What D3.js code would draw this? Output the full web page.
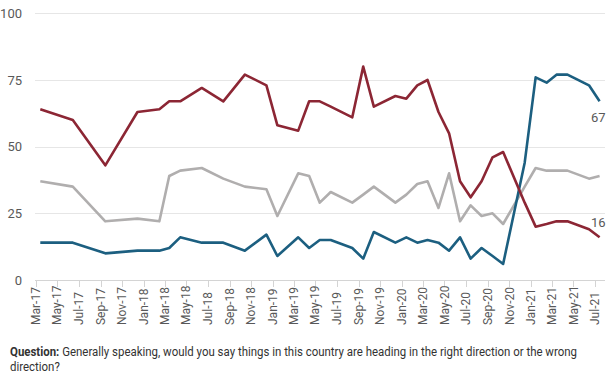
<!DOCTYPE html>
<html>
<head>
<meta charset="utf-8">
<script src="https://cdn.jsdelivr.net/npm/d3@7"></script>
<style>
  body { margin: 0; background: #fff; }
  svg { display: block; font-family: Roboto, "Noto Sans", sans-serif; }
</style>
</head>
<body>
<svg id="chart" width="612" height="374"></svg>
<script>
// survey dates (mid-month)
var dates = ["2017-03-14", "2017-06-14", "2017-09-14", "2017-12-14", "2018-02-14", "2018-03-14",
  "2018-04-14", "2018-06-14", "2018-08-14", "2018-10-14", "2018-12-14", "2019-01-14",
  "2019-03-14", "2019-04-14", "2019-05-14", "2019-06-14", "2019-08-14", "2019-09-14",
  "2019-10-14", "2019-12-14", "2020-01-14", "2020-02-14", "2020-03-14", "2020-04-14",
  "2020-05-14", "2020-06-14", "2020-07-14", "2020-08-14", "2020-09-14", "2020-10-14",
  "2020-12-14", "2021-01-14", "2021-02-14", "2021-03-14", "2021-04-14", "2021-06-14",
  "2021-07-14"];

var wrongDirection = [64, 60, 43, 63, 64, 67, 67, 72, 67, 77, 73, 58, 56, 67, 67, 65, 61, 80,
  65, 69, 68, 73, 75, 63, 55, 37, 31, 37, 46, 48, 29, 20, 21, 22, 22, 19, 16];

var dontKnow = [37, 35, 22, 23, 22, 39, 41, 42, 38, 35, 34, 24, 40, 39, 29, 33, 29, 32,
  35, 29, 32, 36, 37, 27, 40, 22, 28, 24, 25, 21, 35, 42, 41, 41, 41, 38, 39];

var rightDirection = [14, 14, 10, 11, 11, 12, 16, 14, 14, 11, 17, 9, 16, 12, 15, 15, 12, 8,
  18, 14, 16, 14, 15, 14, 11, 16, 8, 12, 9, 6, 44, 76, 74, 77, 77, 73, 67];

var yTicks = [0, 25, 50, 75, 100];

var questionLabel = "Question:";
var questionText = " Generally speaking, would you say things in this country are heading in the right direction or the wrong";
var questionText2 = "direction?";

var svg = d3.select("#chart");
var parseDate = d3.timeParse("%Y-%m-%d");
var when = dates.map(parseDate);

var x = d3.scaleTime()
    .domain([new Date(2017, 2, 1), new Date(2021, 6, 1)])
    .range([35.7, 595]);

var y = d3.scaleLinear()
    .domain([0, 100])
    .range([280, 13.3]);

// gridlines
svg.append("g")
    .selectAll("line")
    .data(yTicks)
    .enter().append("line")
    .attr("x1", 35)
    .attr("x2", 605)
    .attr("y1", function(d) { return Math.round(y(d)) + 0.5; })
    .attr("y2", function(d) { return Math.round(y(d)) + 0.5; })
    .attr("stroke", function(d) { return d === 0 ? "#d4d4d4" : "#e6e6e6"; })
    .attr("stroke-width", 1);

svg.append("g")
    .selectAll("text")
    .data(yTicks)
    .enter().append("text")
    .attr("x", 22)
    .attr("y", function(d) { return y(d); })
    .attr("dy", "0.35em")
    .attr("text-anchor", "end")
    .attr("font-size", 13)
    .attr("fill", "#595959")
    .text(function(d) { return d; });

// x ticks every two months
var xTicks = d3.timeMonth.every(2).range(new Date(2017, 2, 1), new Date(2021, 6, 2));
var fmt = d3.timeFormat("%b-%y");

var xg = svg.append("g");
xg.selectAll("line")
    .data(xTicks)
    .enter().append("line")
    .attr("x1", function(d) { return Math.round(x(d)) + 0.5; })
    .attr("x2", function(d) { return Math.round(x(d)) + 0.5; })
    .attr("y1", 281)
    .attr("y2", 287)
    .attr("stroke", "#d4d4d4");

xg.selectAll("text")
    .data(xTicks)
    .enter().append("text")
    .attr("transform", function(d) { return "translate(" + x(d) + ",325) rotate(-90)"; })
    .attr("dy", "0.35em")
    .attr("text-anchor", "start")
    .attr("font-size", 12)
    .attr("fill", "#595959")
    .text(fmt);

// series
var series = [
  { name: "dontKnow", values: dontKnow, color: "#b0aeae" },
  { name: "right", values: rightDirection, color: "#1c5f80" },
  { name: "wrong", values: wrongDirection, color: "#8c2634" }
];

var line = d3.line()
    .x(function(d) { return x(d.date); })
    .y(function(d) { return y(d.value); });

svg.append("g")
    .selectAll("path")
    .data(series)
    .enter().append("path")
    .attr("fill", "none")
    .attr("stroke", function(d) { return d.color; })
    .attr("stroke-width", 2.6)
    .attr("stroke-linejoin", "round")
    .attr("d", function(s) {
        return line(s.values.map(function(v, i) { return { date: when[i], value: v }; }));
    });

// end labels
var last = when.length - 1;
svg.append("text")
    .attr("x", x(when[last]) + 6)
    .attr("y", y(rightDirection[last]) + 16)
    .attr("dy", "0.35em")
    .attr("text-anchor", "end")
    .attr("font-size", 13)
    .attr("fill", "#595959")
    .text(rightDirection[last]);

svg.append("text")
    .attr("x", x(when[last]) + 6)
    .attr("y", y(wrongDirection[last]) - 15)
    .attr("dy", "0.35em")
    .attr("text-anchor", "end")
    .attr("font-size", 13)
    .attr("fill", "#595959")
    .text(wrongDirection[last]);

// question footnote
var q1 = svg.append("text")
    .attr("x", 10)
    .attr("y", 356)
    .attr("font-size", 12)
    .attr("fill", "#333");
q1.append("tspan").attr("font-weight", "bold").text(questionLabel);
q1.append("tspan").text(questionText);

var natural = q1.node().getComputedTextLength();
var ratio = 567 / natural;
q1.attr("textLength", 567).attr("lengthAdjust", "spacingAndGlyphs");

var q2 = svg.append("text")
    .attr("x", 10)
    .attr("y", 371)
    .attr("font-size", 12)
    .attr("fill", "#333")
    .text(questionText2);
var n2 = q2.node().getComputedTextLength();
q2.attr("textLength", n2 * ratio).attr("lengthAdjust", "spacingAndGlyphs");
</script>
</body>
</html>
